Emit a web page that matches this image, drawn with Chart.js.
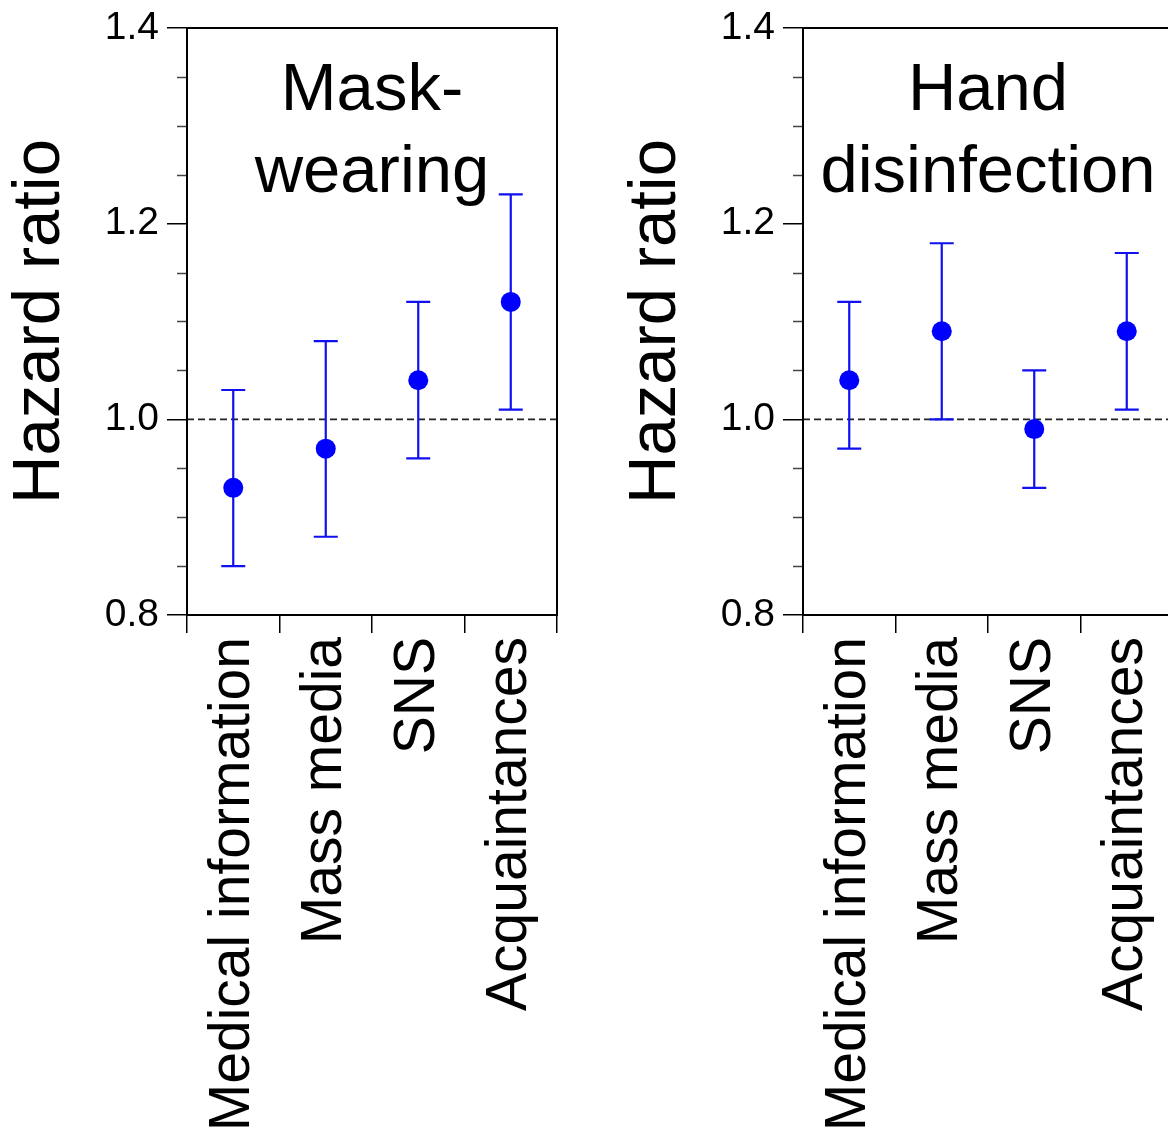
<!DOCTYPE html>
<html>
<head>
<meta charset="utf-8">
<script src="https://cdn.jsdelivr.net/npm/chart.js@4.4.1/dist/chart.umd.min.js"></script>
<style>
    html, body { margin: 0; padding: 0; background: #fff; overflow: hidden; width: 1168px; height: 1135px; }
    .panel { position: absolute; top: 0; width: 600px; height: 1135px; }
    #panel-mask { left: 0; }
    #panel-hand { left: 616px; }
</style>
</head>
<body>
<div class="panel" id="panel-mask"><canvas id="chart-mask" width="600" height="1135"></canvas></div>
<div class="panel" id="panel-hand"><canvas id="chart-hand" width="600" height="1135"></canvas></div>
<script>
// --- Data ---
const categories = ['Medical information', 'Mass media', 'SNS', 'Acquaintances'];

const maskHR    = [0.93, 0.97, 1.04, 1.12];
const maskLower = [0.85, 0.88, 0.96, 1.01];
const maskUpper = [1.03, 1.08, 1.12, 1.23];

const handHR    = [1.04, 1.09, 0.99, 1.09];
const handLower = [0.97, 1.00, 0.93, 1.01];
const handUpper = [1.12, 1.18, 1.05, 1.17];

const Y_MIN = 0.8, Y_MAX = 1.4, MINOR_STEP = 0.05;
const REF_LINE = 1.0;

const FONT = "'Liberation Sans', Arial, Helvetica, sans-serif";
const BLUE = '#0000ff';

// major ticks every 0.2
function isMajor(v) {
    return Math.abs(v * 5 - Math.round(v * 5)) < 1e-6;
}

// Error bars, reference line, frame, minor ticks and panel title
const hrDecor = {
    id: 'hrDecor',
    beforeDatasetsDraw(chart, args, opts) {
        const { ctx, chartArea: a, scales: { x, y } } = chart;
        ctx.save();
        const yr = y.getPixelForValue(REF_LINE);
        ctx.strokeStyle = '#222';
        ctx.lineWidth = 1.6;
        ctx.setLineDash([7, 4]);
        ctx.beginPath();
        ctx.moveTo(a.left, yr);
        ctx.lineTo(a.right, yr);
        ctx.stroke();
        ctx.setLineDash([]);

        ctx.strokeStyle = '#1010f0';
        ctx.lineWidth = 2.2;
        opts.lower.forEach((lo, i) => {
            const px = x.getPixelForValue(i);
            const yl = y.getPixelForValue(lo);
            const yu = y.getPixelForValue(opts.upper[i]);
            ctx.beginPath();
            ctx.moveTo(px, yl); ctx.lineTo(px, yu);
            ctx.moveTo(px - 12, yl); ctx.lineTo(px + 12, yl);
            ctx.moveTo(px - 12, yu); ctx.lineTo(px + 12, yu);
            ctx.stroke();
        });
        ctx.restore();
    },
    afterDraw(chart, args, opts) {
        const { ctx, chartArea: a, scales: { y } } = chart;
        ctx.save();
        // minor y ticks
        ctx.strokeStyle = '#444';
        ctx.lineWidth = 1.5;
        y.ticks.forEach(t => {
            if (isMajor(t.value)) return;
            const py = Math.round(y.getPixelForValue(t.value)) + 0.5;
            ctx.beginPath();
            ctx.moveTo(a.left - 10, py);
            ctx.lineTo(a.left, py);
            ctx.stroke();
        });
        // frame
        ctx.strokeStyle = '#000';
        ctx.lineWidth = 2;
        ctx.strokeRect(a.left, a.top, a.right - a.left, a.bottom - a.top);
        // panel title
        ctx.fillStyle = '#000';
        ctx.font = '67px ' + FONT;
        ctx.textAlign = 'center';
        ctx.textBaseline = 'alphabetic';
        const cx = (a.left + a.right) / 2;
        opts.title.forEach((line, i) => {
            ctx.fillText(line, cx, a.top + 82 + i * 82);
        });
        ctx.restore();
    }
};

function makePanel(canvasId, title, hr, lower, upper) {
    return new Chart(document.getElementById(canvasId), {
        type: 'line',
        data: {
            labels: categories,
            datasets: [{
                data: hr,
                showLine: false,
                pointRadius: 10,
                pointBackgroundColor: BLUE,
                pointBorderColor: BLUE,
                pointBorderWidth: 0
            }]
        },
        options: {
            responsive: false,
            animation: false,
            layout: { padding: { top: 28, right: 43, bottom: 0, left: 0 } },
            plugins: {
                legend: { display: false },
                tooltip: { enabled: false },
                hrDecor: { title: title, lower: lower, upper: upper }
            },
            scales: {
                x: {
                    type: 'category',
                    offset: true,
                    grid: { offset: true, drawOnChartArea: false, tickLength: 18, color: '#000', lineWidth: 1.5 },
                    border: { display: true, color: '#000', width: 2 },
                    ticks: {
                        color: '#000',
                        font: { family: FONT, size: 57 },
                        minRotation: 90,
                        maxRotation: 90,
                        autoSkip: false,
                        padding: 4
                    },
                    afterFit(s) {
                        s.height = 520;
                        s.paddingLeft = 0;
                        s.paddingRight = 0;
                    }
                },
                y: {
                    min: Y_MIN,
                    max: Y_MAX,
                    ticks: {
                        stepSize: MINOR_STEP,
                        autoSkip: false,
                        color: '#000',
                        font: { family: FONT, size: 39 },
                        padding: 8,
                        callback: v => isMajor(v) ? v.toFixed(1) : ''
                    },
                    grid: {
                        drawOnChartArea: false,
                        tickLength: 20,
                        lineWidth: 1.5,
                        color: c => (c.tick && isMajor(c.tick.value)) ? '#000' : 'rgba(0,0,0,0)'
                    },
                    border: { display: true, color: '#000', width: 2 },
                    title: {
                        display: true,
                        text: 'Hazard ratio',
                        color: '#000',
                        font: { family: FONT, size: 67 },
                        padding: 0
                    },
                    afterFit(s) {
                        s.width = 187;
                        s.paddingTop = 0;
                        s.paddingBottom = 0;
                    }
                }
            }
        },
        plugins: [hrDecor]
    });
}

makePanel('chart-mask', ['Mask-', 'wearing'], maskHR, maskLower, maskUpper);
makePanel('chart-hand', ['Hand', 'disinfection'], handHR, handLower, handUpper);
</script>
</body>
</html>
